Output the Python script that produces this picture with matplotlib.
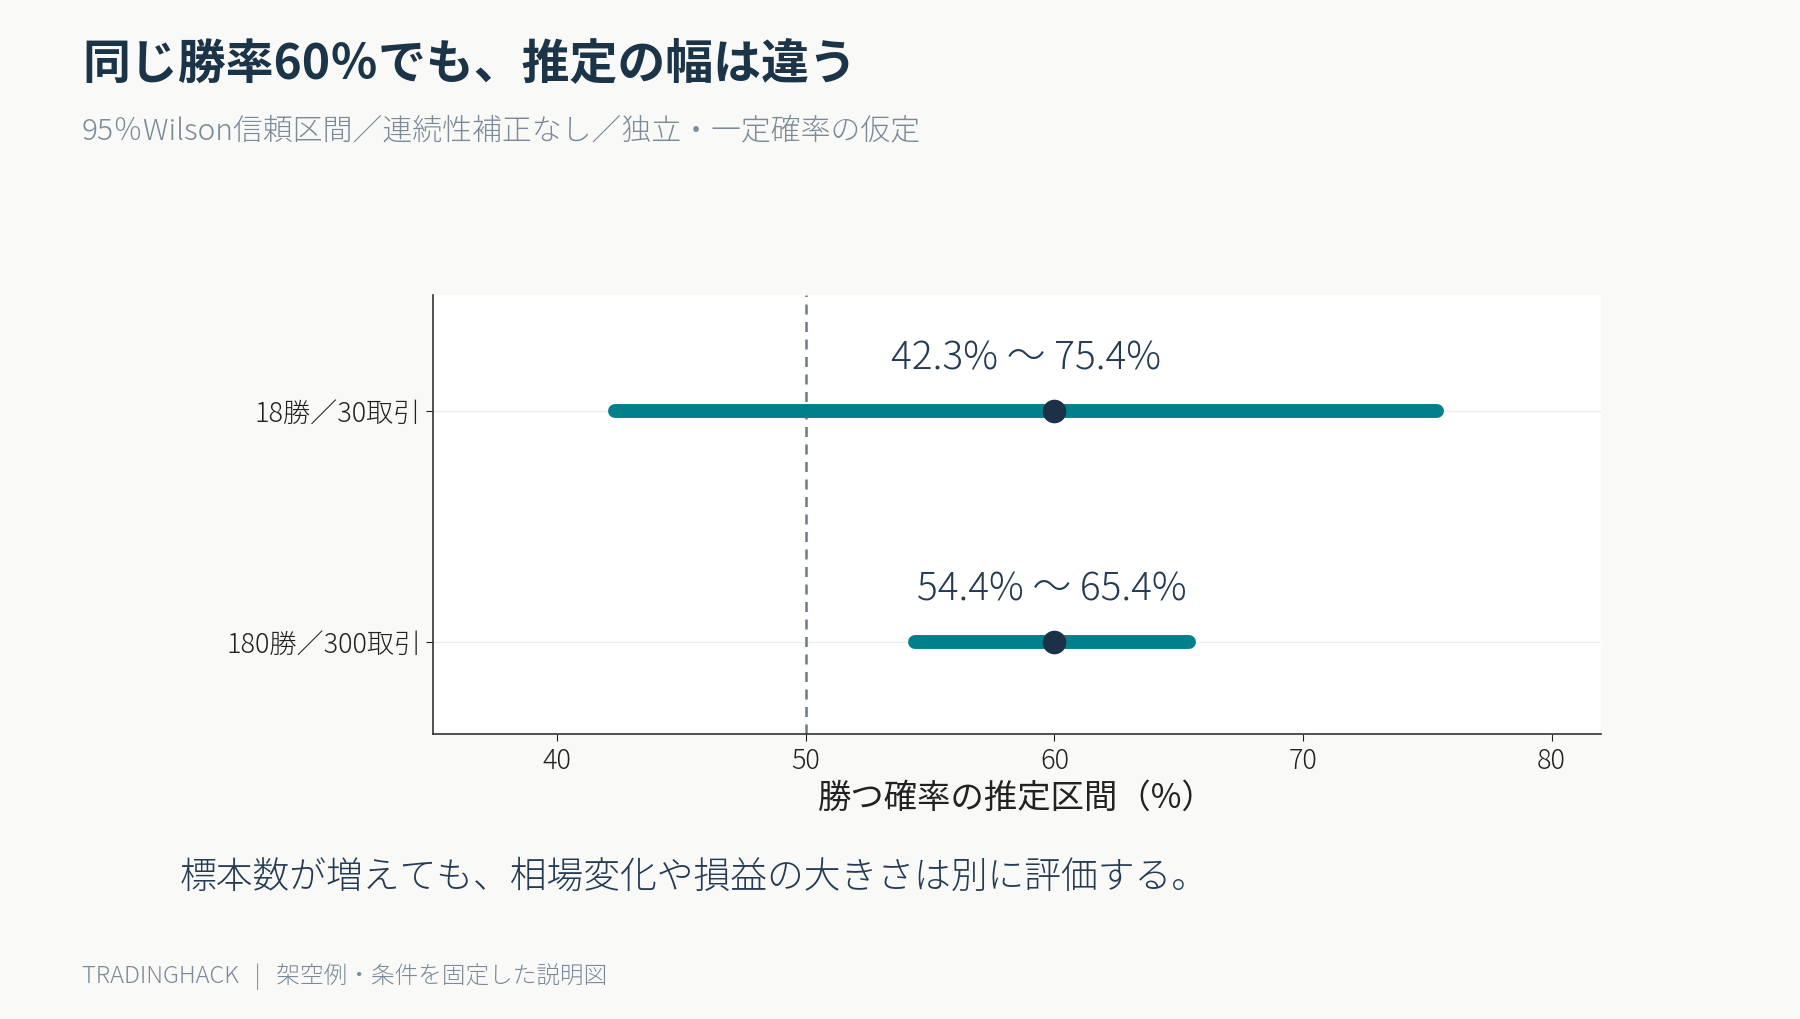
import matplotlib
matplotlib.use("Agg")
import matplotlib.pyplot as plt

plt.rcParams['font.family'] = ['Noto Sans CJK JP', 'DejaVu Sans']
plt.rcParams['font.weight'] = 'light'

# data
labels = ["18勝／30取引", "180勝／300取引"]
point = [60.0, 60.0]
lower = [42.3, 54.4]
upper = [75.4, 65.4]
ref_line = 50
xticks = [40, 50, 60, 70, 80]

bg = "#f9f9f7"
teal = "#00808a"
navy = "#1b3148"
text_dark = "#243b53"
grey = "#7b8a99"

fig = plt.figure(figsize=(18, 10.2), dpi=100, facecolor=bg)
ax = fig.add_axes([0.2406, 0.2794, 0.649, 0.4304])
ax.set_facecolor("white")

ypos = [1, 0]
for y in ypos:
    ax.axhline(y, color="#eeeeee", lw=1, zorder=0)

ax.axvline(ref_line, color="#6b7b8c", lw=1.8, ls=(0, (4, 3)), zorder=1)

for y, lo, hi, p in zip(ypos, lower, upper, point):
    ax.plot([lo, hi], [y, y], color=teal, lw=10, solid_capstyle="round", zorder=2)
    ax.plot(p, y, "o", color=navy, markersize=16, zorder=3)
    ax.text((lo + hi) / 2, y + 0.23, f"{lo:.1f}% 〜 {hi:.1f}%",
            ha="center", va="center", fontsize=28, color=text_dark)

ax.set_xlim(35, 82)
ax.set_ylim(-0.4, 1.5)
ax.set_yticks(ypos)
ax.set_yticklabels(labels)
ax.set_xticks(xticks)
ax.tick_params(axis="both", labelsize=19.5, colors="#222222", length=5)
ax.set_xlabel("勝つ確率の推定区間（%）", fontsize=24, color="#222222", labelpad=4)

for s in ["top", "right"]:
    ax.spines[s].set_visible(False)
for s in ["left", "bottom"]:
    ax.spines[s].set_color("#333333")
    ax.spines[s].set_linewidth(1.2)

fig.text(0.0456, 0.938, "同じ勝率60％でも、推定の幅は違う", fontsize=34.5,
         fontweight="bold", color="#1c3448", va="center", ha="left")
fig.text(0.0456, 0.871, "95％Wilson信頼区間／連続性補正なし／独立・一定確率の仮定",
         fontsize=21.5, color=grey, va="center", ha="left")
fig.text(0.100, 0.140, "標本数が増えても、相場変化や損益の大きさは別に評価する。",
         fontsize=26.5, color=text_dark, va="center", ha="left")
fig.text(0.0456, 0.043, "TRADINGHACK   |   架空例・条件を固定した説明図",
         fontsize=17, color=grey, va="center", ha="left")

fig.savefig("out.png", dpi=100, facecolor=bg)
